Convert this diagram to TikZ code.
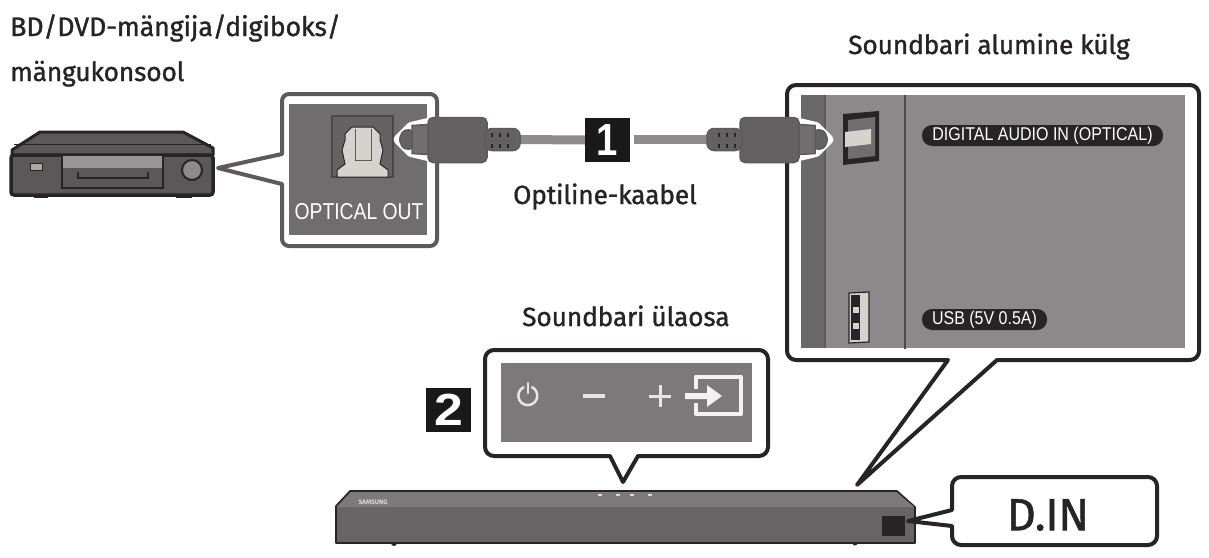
\documentclass[tikz,border=0pt]{standalone}
\usepackage{fontspec}
\setmainfont{Fira Sans}
\newfontfamily\labf[FakeBold=1.2,LetterSpace=-0.5]{Fira Sans}
\newfontfamily\arialf{Liberation Sans}
\usetikzlibrary{arrows.meta}
\definecolor{inkd}{HTML}{262425}
\definecolor{inkg}{HTML}{5C5A5B}
\definecolor{panelL}{HTML}{6F6D6E}
\definecolor{panelR}{HTML}{8B898A}
\definecolor{panelB}{HTML}{7B797A}
\definecolor{stripd}{HTML}{6A6869}
\definecolor{lite}{HTML}{D6D3CF}
\definecolor{plugb}{HTML}{636162}
\definecolor{plugn}{HTML}{706E6F}
\definecolor{cablec}{HTML}{8E8C8D}
\definecolor{barlo}{HTML}{666465}
\definecolor{barhi}{HTML}{7C7A7B}
\definecolor{playf}{HTML}{5A5859}
\tikzset{
  x=1pt,y=-1pt,
  callout/.style={draw=inkd,line width=4pt,fill=white,line join=round},
  calloutg/.style={draw=inkg,line width=4pt,fill=white,line join=round},
  labeltxt/.style={anchor=base west,inner sep=0pt,font=\labf\fontsize{26.3}{26.3}\selectfont,text=inkd},
  badge/.style={fill=black!90,text=white,minimum width=45pt,minimum height=44pt,inner sep=0pt,font=\arialf\bfseries\fontsize{45}{45}\selectfont},
  pilltxt/.style={fill=inkd,text=white,rounded corners=10pt,inner sep=0pt,minimum height=21pt,font=\arialf\fontsize{18.5}{18.5}\selectfont},
  plug/.pic={
    \draw[white,line width=9pt,line join=round,fill=white] (1,0) -- (14,-13) -- (31,-17) -- (31,17) -- (14,13) -- cycle;
    \draw[draw=inkg,line width=1.5pt,fill=plugb,rounded corners=3pt] (2,0) -- (6,-9) -- (15,-10) -- (15,10) -- (6,9) -- cycle;
    \draw[draw=inkg,line width=1.5pt,fill=plugn] (15,-14) -- (31,-15) -- (31,15) -- (15,14) -- cycle;
    \draw[draw=inkg,line width=1.5pt,fill=plugb,rounded corners=5pt] (31,-22) rectangle (90,23);
    \draw[draw=inkg,line width=1.5pt,fill=plugb,rounded corners=7pt] (88,-11) -- (123,-11) -- (123,11) -- (88,11) -- cycle;
    \foreach \rx in {95,103,111}{
      \draw[inkd,line width=2pt] (\rx,-7) -- (\rx,-3);
      \draw[inkd,line width=2pt] (\rx,4) -- (\rx,8);
    }
  }
}
\begin{document}
\begin{tikzpicture}[line cap=butt]
\useasboundingbox (0,0) rectangle (1209,557);
\fill[white] (0,0) rectangle (1209,557);

% labels
\node[labeltxt,font=\labf\fontsize{26.8}{26.8}\selectfont] (lbA) at (10,36) {BD/DVD-mängija/digiboks/};
\node[labeltxt] (lbB) at (10,81) {mängukonsool};
\node[labeltxt] (lbC) at (848,54) {Soundbari alumine külg};
\node[labeltxt] (lbD) at (513,204) {Optiline-kaabel};
\node[labeltxt] (lbE) at (522,326) {Soundbari ülaosa};

% player
\draw[inkd,line width=3pt,fill=playf,line join=round] (12,150) -- (40,132) -- (183,132) -- (213,148) -- (213,155) -- (12,155) -- cycle;
\draw[inkd,line width=1pt] (14,144) -- (211,144);
\draw[inkd,line width=3.5pt,fill=playf,rounded corners=3pt] (11,155) rectangle (213,195);
\fill[inkd] (34,195) rectangle (48,198);
\fill[inkd] (176,195) rectangle (192,198);
\draw[inkd,line width=1.5pt] (62,155) -- (62,188) -- (163,188) -- (163,155);
\fill[panelR!90!white] (63,156) rectangle (162,168);
\draw[inkd,line width=2.5pt] (78,172) -- (78,178) -- (148,178) -- (148,172);
\draw[inkd,fill=lite!80!black,line width=1pt] (30,163) rectangle (42,170);
\draw[inkd,line width=2pt,fill=panelR] (192,170) circle[radius=10pt];

% optical out callout
\path[calloutg] (218,168) -- (282,154) [rounded corners=7pt] -- (282,94) -- (437,94) -- (437,246) -- (282,246) [sharp corners] -- (282,184) -- cycle;
\fill[panelL] (289,104) rectangle (427,235);
\draw[inkg!80!black,line width=1.5pt,fill=panelL!90!black] (332,116) rectangle (393,177);
\draw[inkd,line width=1pt,fill=lite] (337,177) -- (337,170) -- (345,164) -- (342,150) -- (345,140) -- (345,134) -- (352,127) -- (373,127) -- (380,134) -- (380,140) -- (383,150) -- (380,164) -- (388,170) -- (388,177) -- cycle;
\draw[inkg,line width=.8pt] (355,129) -- (355,160) -- (371,160) -- (371,129);
\node[inner sep=0pt,text=white] (optout) at (359,212) {\scalebox{.84}[1]{\fontsize{23}{23}\selectfont\arialf OPTICAL OUT}};

% soundbar side callout
\path[callout] (857,485) -- (948,360) [rounded corners=9pt] -- (787,360) -- (787,85) -- (1199,85) -- (1199,360) [sharp corners] -- (997,360) -- cycle;
\fill[panelR] (801,95) rectangle (1185,348);
\fill[stripd] (801,95) rectangle (825,348);
\draw[inkg,line width=1.5pt] (825,95) -- (825,348);
\draw[inkg!80!black,line width=1.5pt] (905,95) -- (905,349);
\fill[inkd] (843,114) -- (879,111) -- (879,161) -- (843,165) -- cycle;
\fill[panelL] (848,120) -- (875,117) -- (875,156) -- (848,159) -- cycle;
\fill[lite] (845,132) -- (871,129) -- (871,144) -- (845,147) -- cycle;
\draw[inkd,line width=1.2pt,fill=lite] (849,293) -- (869,292) -- (869,342) -- (849,343) -- cycle;
\fill[inkd] (851,295) rectangle (860,340);
\fill[lite] (853,307) rectangle (859,313);
\fill[lite] (853,323) rectangle (859,329);
\node[pilltxt,minimum width=241pt] (pillA) at (1042.5,135.5) {\scalebox{.865}[1]{DIGITAL AUDIO IN (OPTICAL)}};
\node[pilltxt,minimum width=125pt] (pillB) at (984.5,319.5) {\scalebox{.865}[1]{USB (5V 0.5A)}};

% cable
\coordinate (cabA) at (520,139.5);
\coordinate (cabB) at (708,139.5);
\node[badge] (badgeA) at (607.5,140) {\scalebox{.85}[1]{1}};
\draw[cablec,line width=9pt] (cabA) -- (badgeA.west);
\draw[cablec,line width=9pt] (badgeA.east) ++(4,-.5) -- (cabB);
\pic at (397,139.5) {plug};
\pic[xscale=-1] at (830,139.5) {plug};

% top panel callout
\path[callout] (623,482) -- (610,456) [rounded corners=9pt] -- (485,456) -- (485,350) -- (768,350) -- (768,456) [sharp corners] -- (638,456) -- cycle;
\fill[panelB] (501,363) rectangle (752,442);
\node[badge] (badgeB) at (448.5,410) {\scalebox{1.15}[1]{2}};
\draw[white!90!black,line cap=round,line width=2.5pt] (523.5,387.2) arc[start angle=117,end angle=423,radius=9.5pt];
\draw[white!90!black,line width=2.5pt,line cap=round] (528,383) -- (528,393);
\draw[white!90!black,line width=3.5pt] (583,396) -- (605,396);
\draw[white!90!black,line width=3pt] (649,396) -- (671,396) (660,385) -- (660,407);
\draw[white!95!black,line width=4pt,line join=round] (696,389) -- (696,376.5) -- (741,376.5) -- (741,414) -- (696,414) -- (696,403);
\fill[white!95!black] (685,393) -- (707,393) -- (707,385) -- (722,396) -- (707,407) -- (707,399) -- (685,399) -- cycle;

% soundbar
\fill[inkd] (394,543) circle[radius=3pt];
\fill[inkd] (855,543) circle[radius=2.5pt];
\draw[inkd,line width=1.6pt,line join=round,fill=barlo] (336,506) -- (350,491) -- (897,491) -- (915,507) -- (915,543) -- (336,543) -- cycle;
\fill[barhi] (337,507) -- (351,492) -- (896,492) -- (914,507) -- cycle;
\node[inner sep=0pt,text=white!85!black,font=\fontsize{6.5}{6.5}\selectfont\bfseries] (brand) at (373,502) {SAMSUNG};
\foreach \dx in {600,618,632,650}{\fill[white!85!black] (\dx-2,494) rectangle (\dx+2,496);}
\fill[inkd] (882,516) rectangle (905,536);

% D.IN callout
\path[callout] (908,521) -- (952,510) [rounded corners=9pt] -- (952,477) -- (1157,477) -- (1157,545) -- (952,545) [sharp corners] -- (952,526) -- cycle;
\node[inner sep=0pt,text=inkd,font=\labf\fontsize{45}{45}\selectfont] (din) at (1048,515) {D.IN};
\end{tikzpicture}
\end{document}
